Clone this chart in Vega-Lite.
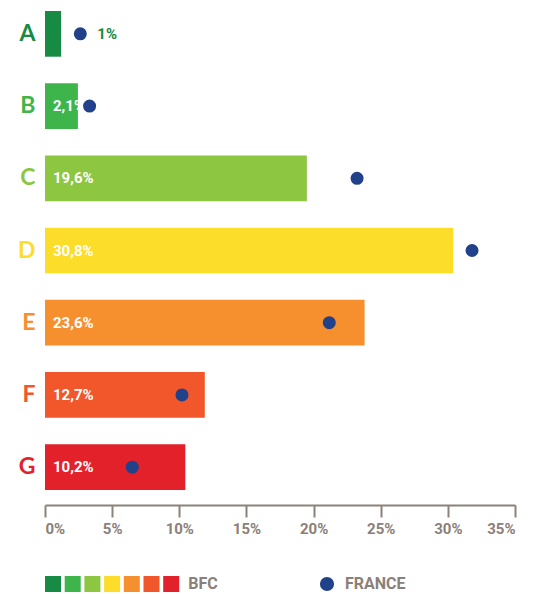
{
  "$schema": "https://vega.github.io/schema/vega-lite/v6.json",
  "width": 470,
  "height": 501,
  "autosize": {"type": "none"},
  "padding": {"left": 45, "top": 0, "right": 24, "bottom": 93},
  "background": "white",
  "config": {"view": {"stroke": null}, "font": "Roboto"},
  "data": {
    "values": [
      {"classe": "A", "bfc": 1.2, "label": "1%", "france": 2.63},
      {"classe": "B", "bfc": 2.45, "label": "2,1%", "france": 3.32},
      {"classe": "C", "bfc": 19.5, "label": "19,6%", "france": 23.24},
      {"classe": "D", "bfc": 30.4, "label": "30,8%", "france": 31.8},
      {"classe": "E", "bfc": 23.8, "label": "23,6%", "france": 21.17},
      {"classe": "F", "bfc": 11.9, "label": "12,7%", "france": 10.2},
      {"classe": "G", "bfc": 10.45, "label": "10,2%", "france": 6.5}
    ]
  },
  "encoding": {
    "y": {
      "field": "classe",
      "type": "nominal",
      "title": null,
      "scale": {"paddingInner": 0.367, "paddingOuter": 0.152},
      "axis": {
        "title": null,
        "domain": false,
        "ticks": false,
        "grid": false,
        "labelPadding": 10,
        "labelFont": "Lato",
        "labelFontWeight": "bold",
        "labelFontSize": 23,
        "labelColor": {
          "condition": [
            {"test": "datum.value === 'A'", "value": "#178a43"},
            {"test": "datum.value === 'B'", "value": "#3eb54a"},
            {"test": "datum.value === 'C'", "value": "#8dc641"},
            {"test": "datum.value === 'D'", "value": "#fbdd2a"},
            {"test": "datum.value === 'E'", "value": "#f6902f"},
            {"test": "datum.value === 'F'", "value": "#f1572a"}
          ],
          "value": "#e3212a"
        }
      }
    }
  },
  "layer": [
    {
      "mark": {"type": "bar", "opacity": 1},
      "encoding": {
        "x": {
          "field": "bfc",
          "type": "quantitative",
          "title": null,
          "scale": {"domain": [0, 35], "nice": false},
          "axis": {
            "title": null,
            "values": [0, 5, 10, 15, 20, 25, 30, 35],
            "labelExpr": "datum.value + '%'",
            "grid": false,
            "domainColor": "#8c8279",
            "domainWidth": 2,
            "tickColor": "#8c8279",
            "tickWidth": 2,
            "tickSize": 12,
            "offset": 4,
            "labelColor": "#8b8079",
            "labelFont": "Roboto",
            "labelFontWeight": "bold",
            "labelFontSize": 15,
            "labelPadding": 4
          }
        },
        "color": {
          "field": "classe",
          "type": "nominal",
          "scale": {
            "domain": ["A", "B", "C", "D", "E", "F", "G"],
            "range": ["#178a43", "#3eb54a", "#8dc641", "#fbdd2a", "#f6902f", "#f1572a", "#e3212a"]
          },
          "legend": {
            "orient": "none",
            "legendX": 0,
            "legendY": 576,
            "direction": "horizontal",
            "columns": 7,
            "title": null,
            "padding": 0,
            "symbolType": "square",
            "symbolSize": 256,
            "symbolStrokeWidth": 0,
            "symbolOpacity": 1,
            "labelExpr": "datum.label == 'G' ? 'BFC' : ''",
            "labelOffset": 2,
            "columnPadding": 1.7,
            "labelFont": "Roboto",
            "labelFontWeight": "bold",
            "labelFontSize": 16,
            "labelColor": "#8b8079",
            "encode": {"labels": {"update": {"dx": {"signal": "datum.value === 'G' ? 7 : 0"}}}}
          }
        }
      }
    },
    {
      "transform": [{"filter": "datum.bfc >= 2"}],
      "mark": {
        "type": "text",
        "align": "left",
        "baseline": "middle",
        "dx": 8,
        "color": "white",
        "font": "Roboto",
        "fontWeight": "bold",
        "fontSize": 15
      },
      "encoding": {
        "x": {"datum": 0, "type": "quantitative"},
        "text": {"field": "label"}
      }
    },
    {
      "mark": {
        "type": "point",
        "filled": true,
        "size": 170,
        "opacity": 1,
        "color": "#21428a",
        "strokeWidth": 0
      },
      "encoding": {
        "x": {"field": "france", "type": "quantitative", "title": null},
        "shape": {
          "datum": "FRANCE",
          "scale": {"range": ["circle"]},
          "legend": {
            "orient": "none",
            "legendX": 274,
            "legendY": 576,
            "title": null,
            "padding": 0,
            "symbolSize": 201,
            "symbolFillColor": "#21428a",
            "symbolStrokeColor": "#21428a",
            "symbolStrokeWidth": 0,
            "symbolOpacity": 1,
            "labelOffset": 10,
            "labelFont": "Roboto",
            "labelFontWeight": "bold",
            "labelFontSize": 16,
            "labelColor": "#8b8079"
          }
        }
      }
    },
    {
      "transform": [{"filter": "datum.bfc < 2"}],
      "mark": {
        "type": "text",
        "align": "left",
        "baseline": "middle",
        "dx": 17,
        "color": "#178a43",
        "font": "Roboto",
        "fontWeight": "bold",
        "fontSize": 15
      },
      "encoding": {
        "x": {"field": "france", "type": "quantitative", "title": null},
        "text": {"field": "label"}
      }
    }
  ]
}
